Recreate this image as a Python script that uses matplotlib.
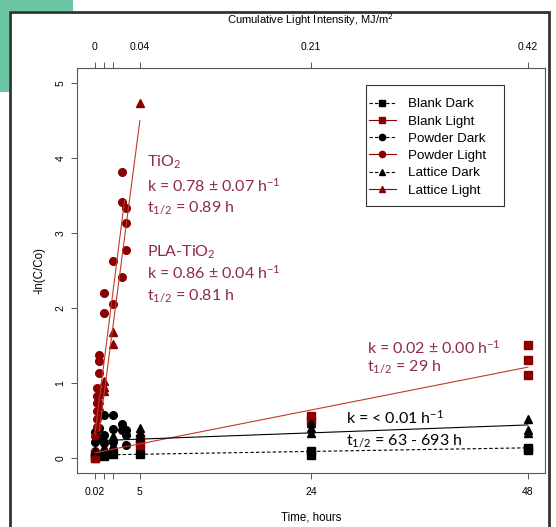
import matplotlib
matplotlib.use("Agg")
import matplotlib.pyplot as plt
from matplotlib.patches import Rectangle
from matplotlib.lines import Line2D

# ---------------- data ----------------
blank_dark_t = [0.02, 1, 2, 5, 24, 24, 48, 48]
blank_dark_y = [0.02, 0.03, 0.05, 0.05, 0.09, 0.04, 0.14, 0.11]

blank_light_t = [0.02, 0.02, 5, 5, 24, 24, 48, 48, 48]
blank_light_y = [0.00, 0.06, 0.25, 0.18, 0.56, 0.50, 1.51, 1.31, 1.11]

powder_dark_t = [0.02, 0.02, 0.5, 0.5, 1, 1, 1, 2, 2, 2, 3, 3, 3.5, 3.5, 3.5]
powder_dark_y = [0.22, 0.35, 0.40, 0.27, 0.58, 0.31, 0.20, 0.57, 0.39, 0.22, 0.46, 0.38, 0.38, 0.31, 0.18]

powder_light_t = [0.02, 0.02, 0.2, 0.2, 0.2, 0.2, 0.2, 0.2, 0.5, 0.5, 0.5, 1, 1, 2, 2, 3, 3, 3, 3.5, 3.5, 3.5]
powder_light_y = [0.09, 0.30, 0.94, 0.83, 0.73, 0.63, 0.52, 0.42, 1.37, 1.30, 1.14, 2.20, 1.94, 2.63, 2.05, 3.82, 3.42, 2.41, 3.34, 3.13, 2.77]

lattice_dark_t = [0.02, 1, 1, 2, 2, 5, 5, 5, 24, 24, 24, 48, 48, 48]
lattice_dark_y = [0.10, 0.25, 0.15, 0.30, 0.18, 0.40, 0.35, 0.28, 0.47, 0.40, 0.34, 0.52, 0.38, 0.33]

lattice_light_t = [0.02, 0.5, 0.5, 0.5, 1, 1, 1, 2, 2, 5]
lattice_light_y = [0.00, 0.85, 0.77, 0.70, 1.03, 0.95, 0.90, 1.68, 1.52, 4.74]

# fitted lines: (t_start, t_end, intercept, slope)
fit_powder_light = (0.02, 3.3, 0.30, 0.95)
fit_lattice_light = (0.5, 5.0, -0.10, 0.92)
fit_blank_light = (0.02, 48, 0.07, 0.0238)
fit_dark = (0.02, 48, 0.23, 0.0044)
fit_blank_dark = (0.02, 48, 0.04, 0.002)

bottom_ticks = [0.02, 1, 2, 5, 24, 48]
bottom_labels = ["0.02", "", "", "5", "24", "48"]
top_labels = ["0", "", "", "0.04", "0.21", "0.42"]
y_ticks = [0, 1, 2, 3, 4, 5]

DARKRED = "#8b0000"
FITRED = "#c0392b"
TXTRED = "#8e2a4a"

plt.rcParams["mathtext.fontset"] = "custom"
plt.rcParams["mathtext.rm"] = "Lato"
plt.rcParams["mathtext.it"] = "Lato:italic"
plt.rcParams["mathtext.bf"] = "Lato:bold"

W, H = 556, 527
fig = plt.figure(figsize=(W / 100, H / 100), dpi=100)

# slide decorations
fig.patches.append(Rectangle((0, 1 - 11 / H), 73 / W, 11 / H, transform=fig.transFigure,
                             facecolor="#6cc5a3", edgecolor="none", zorder=0))
fig.patches.append(Rectangle((0, 1 - 92 / H), 9 / W, 92 / H, transform=fig.transFigure,
                             facecolor="#6cc5a3", edgecolor="none", zorder=0))
fig.patches.append(Rectangle((9.5 / W, -0.01), (549 - 9.5) / W, 1 - 11.5 / H + 0.01,
                             transform=fig.transFigure, facecolor="white", edgecolor="#333333",
                             linewidth=2.0, zorder=0.5))

ax = fig.add_axes([76.7 / W, (H - 473) / H, (545 - 76.7) / W, (473 - 68.3) / H])
ax.set_zorder(2)
ax.patch.set_alpha(0)

ax.plot(blank_dark_t, blank_dark_y, "s", color="black", ms=5.3, ls="none")
ax.plot(blank_light_t, blank_light_y, "s", color=DARKRED, ms=5.3, ls="none")
ax.plot(powder_dark_t, powder_dark_y, "o", color="black", ms=5.5, ls="none")
ax.plot(powder_light_t, powder_light_y, "o", color=DARKRED, ms=5.5, ls="none")
ax.plot(lattice_dark_t, lattice_dark_y, "^", color="black", ms=6, ls="none")
ax.plot(lattice_light_t, lattice_light_y, "^", color=DARKRED, ms=6, ls="none")


def fitline(p, **kw):
    t0, t1, b, m = p
    ax.plot([t0, t1], [b + m * t0, b + m * t1], **kw)


fitline(fit_powder_light, color=FITRED, lw=0.8)
fitline(fit_lattice_light, color=FITRED, lw=0.8)
fitline(fit_blank_light, color=FITRED, lw=0.8)
fitline(fit_dark, color="black", lw=0.8)
fitline(fit_blank_dark, color="black", lw=0.8, ls=(0, (3, 2)))

ax.set_xlim(-2.0, 49.9)
ax.set_ylim(-0.2, 5.2)

for s in ax.spines.values():
    s.set_color("#555555")
    s.set_linewidth(0.8)

tfs = 7.5
ax.set_xticks(bottom_ticks)
ax.set_xticklabels(bottom_labels, fontsize=tfs, family="Liberation Sans")
ax.set_yticks(y_ticks)
ax.set_yticklabels([str(v) for v in y_ticks], fontsize=tfs, family="Liberation Sans",
                   rotation=90, va="center")
ax.tick_params(length=4, width=0.7, color="#555555", pad=6)
ax.tick_params(axis="y", pad=4)
ax.set_xlabel("Time, hours", fontsize=8.3, family="Liberation Sans", labelpad=10.5)
ax.set_ylabel("-ln(C/Co)", fontsize=8.3, family="Liberation Sans", labelpad=7)

top = ax.secondary_xaxis("top")
top.set_xticks(bottom_ticks)
top.set_xticklabels(top_labels, fontsize=tfs, family="Liberation Sans")
top.tick_params(length=4, width=0.7, color="#555555", pad=8)
top.spines["top"].set_visible(False)
top.set_xlabel("Cumulative Light Intensity, MJ/m$^2$", fontsize=8, family="Liberation Sans",
               labelpad=13)

# annotations
afs = 11.5
fam = "Lato"


def note(x, y, s, c):
    ax.text(x, y, s, color=c, fontsize=afs, family=fam, va="center")


note(5.78, 3.94, "TiO$_2$", TXTRED)
note(5.78, 3.63, "k = 0.78 ± 0.07 h$^{-1}$", TXTRED)
note(5.78, 3.34, "t$_{1/2}$ = 0.89 h", TXTRED)
note(5.78, 2.75, "PLA-TiO$_2$", TXTRED)
note(5.78, 2.47, "k = 0.86 ± 0.04 h$^{-1}$", TXTRED)
note(5.78, 2.16, "t$_{1/2}$ = 0.81 h", TXTRED)
note(30.16, 1.47, "k = 0.02 ± 0.00 h$^{-1}$", TXTRED)
note(30.16, 1.22, "t$_{1/2}$ = 29 h", TXTRED)
note(27.8, 0.54, "k = < 0.01 h$^{-1}$", "black")
note(27.8, 0.23, "t$_{1/2}$ = 63 - 693 h", "black")

handles = [
    Line2D([], [], color="black", ls=(0, (3, 2)), marker="s", ms=4.5, lw=0.8),
    Line2D([], [], color=DARKRED, ls="-", marker="s", ms=4.5, lw=0.8),
    Line2D([], [], color="black", ls=(0, (3, 2)), marker="o", ms=4.5, lw=0.8),
    Line2D([], [], color=DARKRED, ls="-", marker="o", ms=4.5, lw=0.8),
    Line2D([], [], color="black", ls=(0, (3, 2)), marker="^", ms=4.5, lw=0.8),
    Line2D([], [], color=DARKRED, ls="-", marker="^", ms=4.5, lw=0.8),
]
labels = ["Blank Dark", "Blank Light", "Powder Dark", "Powder Light", "Lattice Dark", "Lattice Light"]
leg = fig.legend(handles, labels, loc="upper left",
                 bbox_to_anchor=(369 / W, 1 - 98 / H), bbox_transform=fig.transFigure,
                 frameon=False, prop={"family": "Liberation Sans", "size": 9.6},
                 handlelength=2.0, labelspacing=0.37, borderpad=0.0, handletextpad=0.95,
                 borderaxespad=0)
leg.set_zorder(5)
fig.patches.append(Rectangle((366 / W, 1 - 206 / H), 138 / W, 121 / H, transform=fig.transFigure,
                             facecolor="white", edgecolor="#333333", linewidth=0.8, zorder=4))

fig.savefig("out.png", dpi=100)
